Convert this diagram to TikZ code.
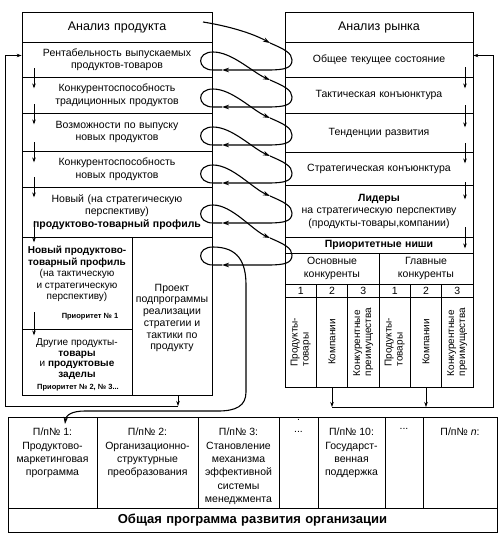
\documentclass[tikz,border=0pt]{standalone}
\usepackage{fontspec}
\setmainfont{Liberation Sans}
\usetikzlibrary{arrows.meta,positioning,calc}

\begin{document}
\begin{tikzpicture}[x=1pt, y=-1pt, font=\fontsize{10.5}{12.5}\selectfont]
    \tikzset{cell/.style={rectangle, draw, line width=0.8pt, align=center, inner sep=0pt}}
    \tikzset{headcell/.style={cell, font=\fontsize{12.5}{15}\selectfont}}
    \tikzset{blank/.style={rectangle, draw, line width=0.8pt, inner sep=0pt}}
    \tikzset{vtext/.style={rotate=90, align=left, inner sep=0pt, font=\fontsize{10}{11}\selectfont}}
    \tikzset{coltext/.style={anchor=north, align=center, inner sep=0pt, font=\fontsize{10.5}{13.3}\selectfont}}
    \tikzset{prio/.style={inner sep=0pt, font=\fontsize{7.5}{9}\selectfont\bfseries}}
    \tikzset{flow/.style={-{Stealth[length=5pt,width=3.5pt]}, line width=0.6pt}}
    \tikzset{spiral/.style={-{Stealth[length=7pt,width=4.5pt]}, line width=1.1pt}}

    \useasboundingbox (0,0) rectangle (499,536);

    % Product analysis
    \node[headcell, text width=190pt, minimum height=30pt] (lhead) at (117,27) {Анализ продукта};
    \node[cell, text width=190pt, minimum height=35pt] (l1) at (117,59.5) {Рентабельность выпускаемых\\продуктов-товаров};
    \node[cell, text width=190pt, minimum height=36pt] (l2) at (117,95) {Конкурентоспособность\\традиционных продуктов};
    \node[cell, text width=190pt, minimum height=38pt] (l3) at (117,132) {Возможности по выпуску\\новых продуктов};
    \node[cell, text width=190pt, minimum height=36pt] (l4) at (117,169) {Конкурентоспособность\\новых продуктов};
    \node[cell, text width=190pt, minimum height=50pt] (l5) at (117,212) {Новый (на стратегическую\\перспективу)\\\textbf{продуктово-товарный профиль}};
    \node[blank, minimum width=110pt, minimum height=92pt] (l6) at (77,283) {};
    \node[align=center, inner sep=0pt, font=\fontsize{10}{11.5}\selectfont] (l6txt) at (77,274)
      {\textbf{Новый продуктово-}\\\textbf{товарный профиль}\\(на тактическую\\и стратегическую\\перспективу)};
    \node[prio] (l6prio) at (90,317) {Приоритет № 1};
    \node[blank, minimum width=110pt, minimum height=66pt] (l7) at (77,362) {};
    \node[align=center, inner sep=0pt, font=\fontsize{10}{10.5}\selectfont] (l7txt) at (77,359)
      {Другие продукты-\\\textbf{товары}\\и \textbf{продуктовые}\\\textbf{заделы}};
    \node[prio] (l7prio) at (78,388) {Приоритет № 2, № 3...};
    \node[blank, minimum width=80pt, minimum height=158pt] (lproj) at (172,316) {};
    \node[align=center, inner sep=0pt, font=\fontsize{10.5}{11.7}\selectfont] (projtxt) at (172,318)
      {Проект\\подпрограммы\\реализации\\стратегии и\\тактики по\\продукту};

    % Market analysis
    \node[headcell, text width=188pt, minimum height=30pt] (rhead) at (379,27) {Анализ рынка};
    \node[cell, text width=188pt, minimum height=35pt] (r1) at (379,59.5) {Общее текущее состояние};
    \node[cell, text width=188pt, minimum height=36pt] (r2) at (379,95) {Тактическая конъюнктура};
    \node[cell, text width=188pt, minimum height=39pt] (r3) at (379,132.5) {Тенденции развития};
    \node[cell, text width=188pt, minimum height=33pt] (r4) at (379,168.5) {Стратегическая конъюнктура};
    \node[cell, text width=188pt, minimum height=52pt] (r5) at (379,211)
      {\textbf{Лидеры}\\на стратегическую перспективу\\(продукты-товары,компании)};
    \node[cell, text width=188pt, minimum height=16pt] (r6) at (379,245) {\textbf{Приоритетные ниши}};
    \node[cell, text width=94pt, minimum height=31pt] (rmain) at (332,268.5) {Основные\\конкуренты};
    \node[cell, text width=94pt, minimum height=31pt] (rchief) at (426,268.5) {Главные\\конкуренты};

    % numbered columns
    \node[cell, text width=31.33pt, minimum height=13pt] (n1) at (300.67,290.5) {1};
    \node[cell, text width=31.33pt, minimum height=13pt] (n2) at (332,290.5) {2};
    \node[cell, text width=31.33pt, minimum height=13pt] (n3) at (363.33,290.5) {3};
    \node[cell, text width=31.33pt, minimum height=13pt] (n4) at (394.67,290.5) {1};
    \node[cell, text width=31.33pt, minimum height=13pt] (n5) at (426,290.5) {2};
    \node[cell, text width=31.33pt, minimum height=13pt] (n6) at (457.33,290.5) {3};
    \node[blank, minimum width=31.33pt, minimum height=90pt] (rv1) at (300.67,342) {};
    \node[blank, minimum width=31.33pt, minimum height=90pt] (rv2) at (332,342) {};
    \node[blank, minimum width=31.33pt, minimum height=90pt] (rv3) at (363.33,342) {};
    \node[blank, minimum width=31.33pt, minimum height=90pt] (rv4) at (394.67,342) {};
    \node[blank, minimum width=31.33pt, minimum height=90pt] (rv5) at (426,342) {};
    \node[blank, minimum width=31.33pt, minimum height=90pt] (rv6) at (457.33,342) {};
    \node[vtext] (rv1t) at (rv1) {Продукты-\\товары};
    \node[vtext] (rv2t) at (rv2) {Компании};
    \node[vtext] (rv3t) at (rv3) {Конкурентные\\преимущества};
    \node[vtext] (rv4t) at (rv4) {Продукты-\\товары};
    \node[vtext] (rv5t) at (rv5) {Компании};
    \node[vtext] (rv6t) at (rv6) {Конкурентные\\преимущества};

    % General programme
    \node[blank, minimum width=89pt, minimum height=91pt] (b1) at (52.5,462.5) {};
    \node[blank, minimum width=101pt, minimum height=91pt] (b2) at (147.5,462.5) {};
    \node[blank, minimum width=81pt, minimum height=91pt] (b3) at (238.5,462.5) {};
    \node[blank, minimum width=39pt, minimum height=91pt] (b4) at (298.5,462.5) {};
    \node[blank, minimum width=67pt, minimum height=91pt] (b5) at (351.5,462.5) {};
    \node[blank, minimum width=38pt, minimum height=91pt] (b6) at (404,462.5) {};
    \node[blank, minimum width=74pt, minimum height=91pt] (b7) at (460,462.5) {};
    \node[coltext] (b1t) at (52.5,428) {П/п№ 1:\\Продуктово-\\маркетинговая\\программа};
    \node[coltext] (b2t) at (147.5,428) {П/п№ 2:\\Организационно-\\структурные\\преобразования};
    \node[coltext] (b3t) at (238.5,428) {П/п№ 3:\\Становление\\механизма\\эффективной\\системы\\менеджмента};
    \node[inner sep=0pt] (b4dot) at (298.5,420) {.};
    \node[coltext] (b4t) at (298.5,431) {...};
    \node[coltext] (b5t) at (351.5,428) {П/п№ 10:\\Государст-\\венная\\поддержка};
    \node[coltext] (b6t) at (404,428) {...};
    \node[coltext] (b7t) at (460,428) {П/п№ \textit{n}:};
    \node[cell, text width=489pt, minimum height=24pt, font=\fontsize{13}{15}\selectfont\bfseries] (bsum) at (252.5,520)
      {Общая программа развития организации};

    % Step arrows inside the columns
    \coordinate (la) at (34,0);
    \coordinate (ra) at (465,0);
    \draw[flow] (l1.south -| la) ++(0,-9) -- ++(0,20);
    \draw[flow] (l2.south -| la) ++(0,-9) -- ++(0,20);
    \draw[flow] (l3.south -| la) ++(0,-9) -- ++(0,20);
    \draw[flow] (l4.south -| la) ++(0,-10) -- ++(0,20);
    \draw[flow] (l5.south -| la) ++(0,-16) -- ++(0,21);
    \draw[flow] (l6.south -| la) ++(0,-17) -- ++(0,23);
    \draw[flow] (r1.south -| ra) ++(0,-10) -- ++(0,21);
    \draw[flow] (r2.south -| ra) ++(0,-8) -- ++(0,22);
    \draw[flow] (r3.south -| ra) ++(0,-9) -- ++(0,20);
    \draw[flow] (r4.south -| ra) ++(0,-3) -- ++(0,17);
    \draw[flow] (r5.south -| ra) ++(0,-10) -- ++(0,21);

    % Feedback lines
    \coordinate (lfb) at (178,406);
    \coordinate (lcorner) at (5,406);
    \coordinate (rfb) at (493,407);
    \draw[flow] (lproj.south -| lfb) -- (lfb);
    \draw[flow] (lfb) -- (lcorner) |- ([yshift=4pt]l1.west);
    \draw[flow] (rv2.south) -- (rv2.south |- rfb);
    \draw[flow] (rv5.south) -- (rv5.south |- rfb);
    \draw[flow] (rv2.south |- rfb) -- (rfb) |- ([yshift=4pt]r1.east);

    % Spiral between product and market
    \draw[spiral] (203,22) .. controls (228,26) and (252,33) .. (270,43);
    \foreach \y in {60,97,135,173,213,255} {
      \draw[spiral] (270,\y-17) .. controls (284,\y-11) and (292,\y-7) .. (292,\y)
        .. controls (292,\y+8) and (285,\y+10) .. (268,\y+10) -- (222,\y+10);
    }
    \foreach \y/\yn in {60/97, 97/135, 135/173, 173/213, 213/255} {
      \draw[spiral] (222,\y+10) -- (213,\y+10) .. controls (197,\y+10) and (196,\y-8) .. (213,\y-8)
        .. controls (232,\y-8) and (252,\yn-25) .. (270,\yn-17);
    }
    \draw[spiral] (222,265) -- (213,265) .. controls (197,265) and (196,247) .. (213,247)
      .. controls (238,247) and (246,262) .. (246,285) -- (246,392)
      .. controls (246,406) and (236,411) .. (218,411) -- (85,411)
      .. controls (72,411) and (66,415) .. (65,424);
\end{tikzpicture}
\end{document}
